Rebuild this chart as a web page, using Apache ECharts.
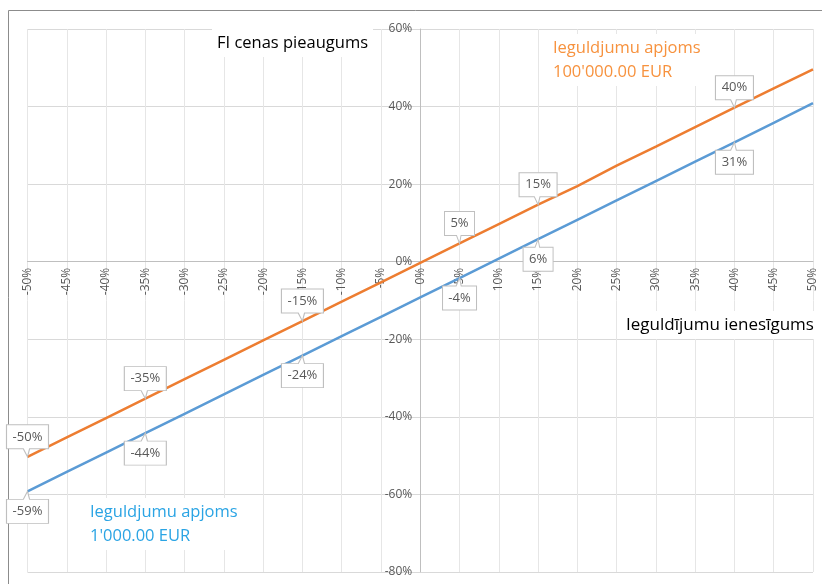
<!DOCTYPE html>
<html>
<head>
<meta charset="utf-8">
<script src="https://cdn.jsdelivr.net/npm/echarts@6/dist/echarts.min.js"></script>
<style>
  html, body { margin: 0; padding: 0; background: #fff; }
  #chart { width: 822px; height: 584px; }
</style>
</head>
<body>
<div id="chart"></div>
<script>
// Ieguldījumu ienesīgums (x, %)
const returns = [-50, -45, -40, -35, -30, -25, -20, -15, -10, -5, 0, 5, 10, 15, 20, 25, 30, 35, 40, 45, 50];
// FI cenas pieaugums, 100'000.00 EUR
const bigInvest = [-50.3, -45.3, -40.3, -35.3, -30.3, -25.3, -20.3, -15.3, -10.3, -5.3, -0.3, 4.7, 9.7, 14.7, 19.5, 24.8, 29.7, 34.7, 39.7, 44.7, 49.6];
// FI cenas pieaugums, 1'000.00 EUR
const smallInvest = [-59.2, -54.2, -49.2, -44.2, -39.2, -34.2, -29.2, -24.2, -19.2, -14.2, -9.2, -4.2, 0.8, 5.8, 10.8, 15.8, 20.8, 25.8, 30.8, 35.8, 40.9];
// punkti ar datu etiķetēm
const labelledReturns = [-50, -35, -15, 5, 15, 40];

const xTicks = { min: -50, max: 50, step: 5 };
const yTicks = { min: -80, max: 60, step: 20 };

const orange = '#ED7D31';
const blue = '#5B9BD5';
const font = '"Open Sans", "Noto Sans", sans-serif';

const W = 822, H = 584;
const grid = { left: 27.5, right: 9, top: 29, bottom: 12 };

let measureCtx = document.createElement('canvas').getContext('2d');
measureCtx.font = '13px ' + font;
function boxWidth(txt) {
    return Math.round(measureCtx.measureText(txt).width) + 12;
}

// callout ar asti uz leju / uz augšu
const calloutDown = 'path://M0,0 L40,0 L40,24 L22,24 L20,32 L16,24 L0,24 Z';
const calloutUp = 'path://M0,8 L16,8 L20,0 L22,8 L40,8 L40,32 L0,32 Z';

function callouts(values, up) {
    return labelledReturns.map(x => {
        let v = values[returns.indexOf(x)];
        let txt = Math.round(v) + '%';
        return {
            coord: [x, v],
            value: v,
            symbol: up ? calloutUp : calloutDown,
            symbolSize: [boxWidth(txt), 32],
            symbolOffset: [0, up ? 16 : -16],
            label: { offset: [0, up ? 4 : -4] }
        };
    });
}

function lineSeries(name, values, color, up) {
    return {
        name,
        type: 'line',
        data: returns.map((x, i) => [x, values[i]]),
        showSymbol: false,
        symbol: 'none',
        lineStyle: { color, width: 2.5 },
        itemStyle: { color },
        z: 3,
        markPoint: {
            silent: true,
            animation: false,
            itemStyle: { color: '#fff', borderColor: '#bfbfbf', borderWidth: 1 },
            label: {
                show: true,
                position: 'inside',
                color: '#595959',
                fontSize: 13,
                fontFamily: font,
                formatter: p => Math.round(p.value) + '%'
            },
            data: callouts(values, up)
        }
    };
}

// asis krustojas nullē: pārbīdām tās ar offset
const plotW = W - grid.left - grid.right;
const plotH = H - grid.top - grid.bottom;
const yAxisOffset = -plotW * (0 - xTicks.min) / (xTicks.max - xTicks.min);
const xAxisOffset = -plotH * (0 - yTicks.min) / (yTicks.max - yTicks.min);

function textBox(left, top, text, size, fill) {
    return {
        type: 'text', left, top, z: 10,
        style: {
            text, font: size + 'px ' + font, fill, lineHeight: 24,
            backgroundColor: '#fff', padding: [2, 5]
        }
    };
}

let chart = echarts.init(document.getElementById('chart'), null, { renderer: 'canvas' });

let option = {
    animation: false,
    backgroundColor: '#fff',
    grid: Object.assign({ containLabel: false }, grid),
    xAxis: {
        type: 'value',
        position: 'bottom',
        offset: xAxisOffset,
        min: xTicks.min,
        max: xTicks.max,
        interval: xTicks.step,
        axisLine: { onZero: false, lineStyle: { color: '#bfbfbf', width: 1 } },
        axisTick: { show: false },
        splitLine: { show: true, lineStyle: { color: '#e6e6e6', width: 1 } },
        axisLabel: {
            rotate: 90,
            margin: 6,
            color: '#595959',
            fontSize: 12,
            fontFamily: font,
            formatter: v => v + '%'
        }
    },
    yAxis: {
        type: 'value',
        position: 'left',
        offset: yAxisOffset,
        min: yTicks.min,
        max: yTicks.max,
        interval: yTicks.step,
        axisLine: { show: true, onZero: false, lineStyle: { color: '#bfbfbf', width: 1 } },
        axisTick: { show: false },
        splitLine: { show: true, lineStyle: { color: '#d9d9d9', width: 1 } },
        axisLabel: {
            margin: 8,
            color: '#595959',
            fontSize: 12,
            fontFamily: font,
            formatter: v => v + '%'
        }
    },
    series: [
        lineSeries("Ieguldjumu apjoms 100'000.00 EUR", bigInvest, orange, false),
        lineSeries("Ieguldjumu apjoms 1'000.00 EUR", smallInvest, blue, true)
    ],
    graphic: [
        {
            type: 'rect',
            silent: true,
            z: -1,
            shape: { x: 8.5, y: 10.5, width: 900, height: 700 },
            style: { fill: 'none', stroke: '#8c8c8c', lineWidth: 1 }
        },
        textBox(212, 29, 'FI cenas pieaugums', 16.5, '#000'),
        textBox(548, 34, "Ieguldjumu apjoms\n100'000.00 EUR", 16.5, '#F7923E'),
        textBox(621, 311, 'Ieguldījumu ienesīgums', 17, '#000'),
        textBox(85, 498, "Ieguldjumu apjoms\n1'000.00 EUR", 16.5, '#2AA4E4')
    ]
};

chart.setOption(option);
</script>
</body>
</html>
